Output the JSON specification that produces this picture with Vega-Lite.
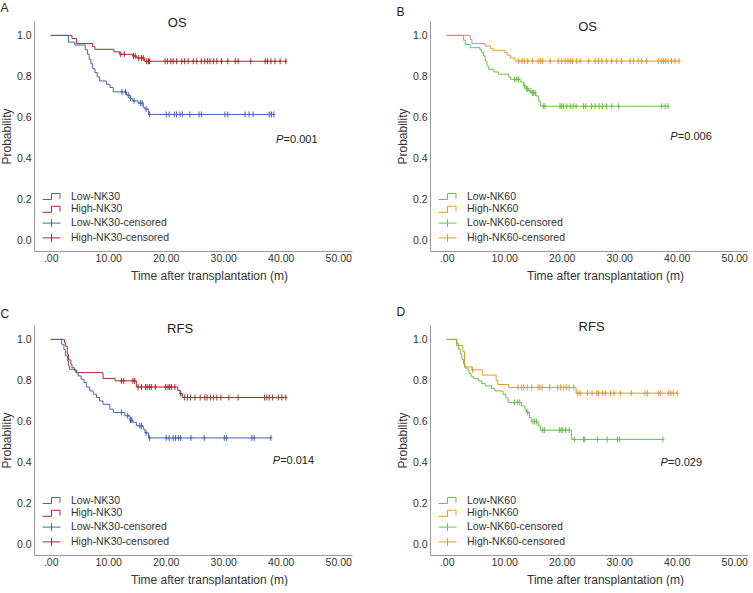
{
  "$schema": "https://vega.github.io/schema/vega-lite/v6.json",
  "padding": {"left": 0, "top": 2, "right": 0, "bottom": 0},
  "spacing": 24,
  "resolve": {"scale": {"color": "independent"}, "legend": {"color": "independent"}},
  "config": {
    "font": "Liberation Sans",
    "view": {"stroke": null},
    "concat": {"spacing": 44},
    "axis": {"grid": false, "ticks": false, "domainColor": "#9a9a9a", "labelColor": "#333333", "titleColor": "#333333", "labelFontSize": 10.5, "titleFontSize": 12, "titleFontWeight": "normal"},
    "axisX": {"labelExpr": "datum.value == 0 ? '.00' : format(datum.value, '.2f')", "labelPadding": 2, "titlePadding": 7, "titleX": 175, "titleAlign": "center"},
    "axisY": {"format": ".1f", "labelPadding": 3, "titlePadding": 3},
    "legend": {"orient": "none", "legendX": 12, "legendY": 170, "title": null, "padding": 0, "symbolSize": 100, "labelFontSize": 10.5, "labelOffset": 14, "rowPadding": 1.8, "labelColor": "#333333"},
    "title": {"fontSize": 12, "fontWeight": "normal", "anchor": "start", "frame": "bounds", "color": "#222222", "offset": 2}
  },
  "vconcat": [
    {
      "resolve": {"scale": {"color": "independent"}, "legend": {"color": "independent"}},
      "hconcat": [
        {
          "title": {"text": "A"},
          "width": 318, "height": 230,
          "data": {"values": [
            {"s": "High-NK30", "t": 0, "p": 1}, {"s": "High-NK30", "t": 3.7, "p": 0.985}, {"s": "High-NK30", "t": 4.5, "p": 0.96}, {"s": "High-NK30", "t": 7.3, "p": 0.945}, {"s": "High-NK30", "t": 7.7, "p": 0.932}, {"s": "High-NK30", "t": 11.0, "p": 0.92}, {"s": "High-NK30", "t": 12.0, "p": 0.908}, {"s": "High-NK30", "t": 14.3, "p": 0.9}, {"s": "High-NK30", "t": 14.9, "p": 0.89}, {"s": "High-NK30", "t": 16.3, "p": 0.874}, {"s": "High-NK30", "t": 40.9, "p": 0.874},
            {"s": "Low-NK30", "t": 0, "p": 1}, {"s": "Low-NK30", "t": 3.1, "p": 0.967}, {"s": "Low-NK30", "t": 4.2, "p": 0.953}, {"s": "Low-NK30", "t": 6.0, "p": 0.93}, {"s": "Low-NK30", "t": 6.4, "p": 0.908}, {"s": "Low-NK30", "t": 6.7, "p": 0.883}, {"s": "Low-NK30", "t": 7.0, "p": 0.862}, {"s": "Low-NK30", "t": 7.3, "p": 0.838}, {"s": "Low-NK30", "t": 7.7, "p": 0.819}, {"s": "Low-NK30", "t": 8.1, "p": 0.798}, {"s": "Low-NK30", "t": 8.5, "p": 0.778}, {"s": "Low-NK30", "t": 9.7, "p": 0.762}, {"s": "Low-NK30", "t": 10.3, "p": 0.746}, {"s": "Low-NK30", "t": 10.9, "p": 0.725}, {"s": "Low-NK30", "t": 13.2, "p": 0.709}, {"s": "Low-NK30", "t": 13.8, "p": 0.693}, {"s": "Low-NK30", "t": 14.2, "p": 0.681}, {"s": "Low-NK30", "t": 15.2, "p": 0.67}, {"s": "Low-NK30", "t": 16.1, "p": 0.649}, {"s": "Low-NK30", "t": 16.4, "p": 0.641}, {"s": "Low-NK30", "t": 17.0, "p": 0.615}, {"s": "Low-NK30", "t": 38.8, "p": 0.615},
            {"s": "Low-NK30-censored", "t": 12.4, "p": 0.725}, {"s": "Low-NK30-censored", "t": 13.0, "p": 0.725}, {"s": "Low-NK30-censored", "t": 13.5, "p": 0.709}, {"s": "Low-NK30-censored", "t": 13.9, "p": 0.693}, {"s": "Low-NK30-censored", "t": 14.5, "p": 0.681}, {"s": "Low-NK30-censored", "t": 15.6, "p": 0.67}, {"s": "Low-NK30-censored", "t": 15.9, "p": 0.67}, {"s": "Low-NK30-censored", "t": 16.6, "p": 0.641},
            {"s": "Low-NK30-censored", "t": 17.2, "p": 0.615}, {"s": "Low-NK30-censored", "t": 20.1, "p": 0.615}, {"s": "Low-NK30-censored", "t": 20.6, "p": 0.615}, {"s": "Low-NK30-censored", "t": 21.5, "p": 0.615}, {"s": "Low-NK30-censored", "t": 21.9, "p": 0.615}, {"s": "Low-NK30-censored", "t": 22.5, "p": 0.615}, {"s": "Low-NK30-censored", "t": 22.9, "p": 0.615}, {"s": "Low-NK30-censored", "t": 24.2, "p": 0.615}, {"s": "Low-NK30-censored", "t": 25.8, "p": 0.615}, {"s": "Low-NK30-censored", "t": 26.2, "p": 0.615}, {"s": "Low-NK30-censored", "t": 30.3, "p": 0.615}, {"s": "Low-NK30-censored", "t": 30.8, "p": 0.615}, {"s": "Low-NK30-censored", "t": 33.8, "p": 0.615}, {"s": "Low-NK30-censored", "t": 34.5, "p": 0.615}, {"s": "Low-NK30-censored", "t": 35.2, "p": 0.615}, {"s": "Low-NK30-censored", "t": 38.0, "p": 0.615}, {"s": "Low-NK30-censored", "t": 38.4, "p": 0.615}, {"s": "Low-NK30-censored", "t": 38.8, "p": 0.615},
            {"s": "High-NK30-censored", "t": 12.2, "p": 0.908}, {"s": "High-NK30-censored", "t": 12.8, "p": 0.908}, {"s": "High-NK30-censored", "t": 14.4, "p": 0.9}, {"s": "High-NK30-censored", "t": 14.7, "p": 0.9}, {"s": "High-NK30-censored", "t": 15.3, "p": 0.89}, {"s": "High-NK30-censored", "t": 15.8, "p": 0.89}, {"s": "High-NK30-censored", "t": 16.1, "p": 0.89},
            {"s": "High-NK30-censored", "t": 16.7, "p": 0.874}, {"s": "High-NK30-censored", "t": 17.0, "p": 0.874}, {"s": "High-NK30-censored", "t": 17.2, "p": 0.874}, {"s": "High-NK30-censored", "t": 19.9, "p": 0.874}, {"s": "High-NK30-censored", "t": 20.3, "p": 0.874}, {"s": "High-NK30-censored", "t": 20.9, "p": 0.874}, {"s": "High-NK30-censored", "t": 21.3, "p": 0.874}, {"s": "High-NK30-censored", "t": 21.9, "p": 0.874}, {"s": "High-NK30-censored", "t": 22.8, "p": 0.874}, {"s": "High-NK30-censored", "t": 23.3, "p": 0.874}, {"s": "High-NK30-censored", "t": 23.9, "p": 0.874}, {"s": "High-NK30-censored", "t": 24.8, "p": 0.874}, {"s": "High-NK30-censored", "t": 25.4, "p": 0.874}, {"s": "High-NK30-censored", "t": 26.2, "p": 0.874}, {"s": "High-NK30-censored", "t": 26.8, "p": 0.874}, {"s": "High-NK30-censored", "t": 27.3, "p": 0.874}, {"s": "High-NK30-censored", "t": 27.7, "p": 0.874}, {"s": "High-NK30-censored", "t": 28.3, "p": 0.874}, {"s": "High-NK30-censored", "t": 28.9, "p": 0.874}, {"s": "High-NK30-censored", "t": 29.7, "p": 0.874}, {"s": "High-NK30-censored", "t": 30.8, "p": 0.874}, {"s": "High-NK30-censored", "t": 32.1, "p": 0.874}, {"s": "High-NK30-censored", "t": 32.6, "p": 0.874}, {"s": "High-NK30-censored", "t": 34.8, "p": 0.874}, {"s": "High-NK30-censored", "t": 37.3, "p": 0.874}, {"s": "High-NK30-censored", "t": 37.7, "p": 0.874}, {"s": "High-NK30-censored", "t": 38.3, "p": 0.874}, {"s": "High-NK30-censored", "t": 39.0, "p": 0.874}, {"s": "High-NK30-censored", "t": 39.9, "p": 0.874}, {"s": "High-NK30-censored", "t": 40.9, "p": 0.874}
          ]},
          "layer": [
            {
              "transform": [{"filter": "indexof(datum.s, 'censored') < 0"}],
              "mark": {"type": "line", "interpolate": "step-after", "strokeWidth": 1},
              "encoding": {
                "x": {"field": "t", "type": "quantitative", "title": "Time after transplantation (m)", "scale": {"domain": [-2.9, 52.4], "nice": false, "zero": false}, "axis": {"values": [0, 10, 20, 30, 40, 50]}},
                "y": {"field": "p", "type": "quantitative", "title": "Probability", "scale": {"domain": [-0.05, 1.07], "nice": false, "zero": false}, "axis": {"values": [0, 0.2, 0.4, 0.6, 0.8, 1.0]}},
                "color": {"field": "s", "type": "nominal", "sort": null,
                  "scale": {"domain": ["Low-NK30", "High-NK30", "Low-NK30-censored", "High-NK30-censored"], "range": ["#4a66b0", "#b2282f", "#4a66b0", "#b2282f"]},
                  "legend": {"encode": {"symbols": {"update": {"shape": {"signal": "indexof(datum.value, 'censored') >= 0 ? 'M-1.8,0H1.8M0,-0.8V0.8' : 'M-1.8,0.6H0V-0.6H1.7V0.45'"}, "fill": {"value": "transparent"}, "strokeWidth": {"value": 1}}}}}}
              }
            },
            {
              "transform": [{"filter": "indexof(datum.s, 'censored') >= 0"}],
              "mark": {"type": "point", "shape": "M0,-1V1M-0.5,0H0.5", "size": 36, "filled": false, "strokeWidth": 1, "opacity": 1},
              "encoding": {
                "x": {"field": "t", "type": "quantitative"},
                "y": {"field": "p", "type": "quantitative"},
                "color": {"field": "s", "type": "nominal"}
              }
            },
            {
              "data": {"values": [{"txt": "OS"}]},
              "mark": {"type": "text", "fontSize": 13, "color": "#222222", "baseline": "middle"},
              "encoding": {"x": {"datum": 22}, "y": {"datum": 1.06}, "text": {"field": "txt"}}
            },
            {
              "data": {"values": [{"txt": "P", "rest": "=0.001"}]},
              "layer": [
                {"mark": {"type": "text", "fontSize": 11, "fontStyle": "italic", "align": "left", "baseline": "middle", "color": "#222222"}, "encoding": {"x": {"datum": 39.2}, "y": {"datum": 0.49}, "text": {"field": "txt"}}},
                {"mark": {"type": "text", "fontSize": 11, "align": "left", "baseline": "middle", "dx": 7.5, "color": "#222222"}, "encoding": {"x": {"datum": 39.2}, "y": {"datum": 0.49}, "text": {"field": "rest"}}}
              ]
            }
          ]
        },
        {
          "title": {"text": "B"},
          "width": 318, "height": 230,
          "data": {"values": [
            {"s": "High-NK60", "t": 0, "p": 1}, {"s": "High-NK60", "t": 4.1, "p": 0.98}, {"s": "High-NK60", "t": 4.4, "p": 0.96}, {"s": "High-NK60", "t": 6.7, "p": 0.948}, {"s": "High-NK60", "t": 7.6, "p": 0.935}, {"s": "High-NK60", "t": 8.1, "p": 0.927}, {"s": "High-NK60", "t": 10.1, "p": 0.916}, {"s": "High-NK60", "t": 10.5, "p": 0.903}, {"s": "High-NK60", "t": 11.1, "p": 0.89}, {"s": "High-NK60", "t": 11.9, "p": 0.875}, {"s": "High-NK60", "t": 40.4, "p": 0.875},
            {"s": "Low-NK60", "t": 0, "p": 1}, {"s": "Low-NK60", "t": 2.95, "p": 0.976}, {"s": "Low-NK60", "t": 3.24, "p": 0.956}, {"s": "Low-NK60", "t": 4.1, "p": 0.94}, {"s": "Low-NK60", "t": 5.8, "p": 0.93}, {"s": "Low-NK60", "t": 6.1, "p": 0.916}, {"s": "Low-NK60", "t": 6.4, "p": 0.9}, {"s": "Low-NK60", "t": 6.7, "p": 0.875}, {"s": "Low-NK60", "t": 7.0, "p": 0.851}, {"s": "Low-NK60", "t": 7.3, "p": 0.835}, {"s": "Low-NK60", "t": 8.2, "p": 0.822}, {"s": "Low-NK60", "t": 9.0, "p": 0.811}, {"s": "Low-NK60", "t": 10.8, "p": 0.798}, {"s": "Low-NK60", "t": 11.1, "p": 0.786}, {"s": "Low-NK60", "t": 12.8, "p": 0.773}, {"s": "Low-NK60", "t": 13.4, "p": 0.754}, {"s": "Low-NK60", "t": 13.8, "p": 0.74}, {"s": "Low-NK60", "t": 14.2, "p": 0.73}, {"s": "Low-NK60", "t": 14.8, "p": 0.72}, {"s": "Low-NK60", "t": 15.5, "p": 0.705}, {"s": "Low-NK60", "t": 16.0, "p": 0.68}, {"s": "Low-NK60", "t": 16.3, "p": 0.655}, {"s": "Low-NK60", "t": 38.5, "p": 0.655},
            {"s": "Low-NK60-censored", "t": 11.8, "p": 0.786}, {"s": "Low-NK60-censored", "t": 12.2, "p": 0.786}, {"s": "Low-NK60-censored", "t": 12.5, "p": 0.786}, {"s": "Low-NK60-censored", "t": 13.5, "p": 0.754}, {"s": "Low-NK60-censored", "t": 13.9, "p": 0.74}, {"s": "Low-NK60-censored", "t": 14.1, "p": 0.74}, {"s": "Low-NK60-censored", "t": 14.5, "p": 0.73}, {"s": "Low-NK60-censored", "t": 14.9, "p": 0.72}, {"s": "Low-NK60-censored", "t": 15.1, "p": 0.72}, {"s": "Low-NK60-censored", "t": 15.4, "p": 0.72},
            {"s": "Low-NK60-censored", "t": 16.8, "p": 0.655}, {"s": "Low-NK60-censored", "t": 17.1, "p": 0.655}, {"s": "Low-NK60-censored", "t": 19.7, "p": 0.655}, {"s": "Low-NK60-censored", "t": 20.0, "p": 0.655}, {"s": "Low-NK60-censored", "t": 20.3, "p": 0.655}, {"s": "Low-NK60-censored", "t": 20.9, "p": 0.655}, {"s": "Low-NK60-censored", "t": 21.5, "p": 0.655}, {"s": "Low-NK60-censored", "t": 22.0, "p": 0.655}, {"s": "Low-NK60-censored", "t": 22.5, "p": 0.655}, {"s": "Low-NK60-censored", "t": 23.8, "p": 0.655}, {"s": "Low-NK60-censored", "t": 24.2, "p": 0.655}, {"s": "Low-NK60-censored", "t": 25.2, "p": 0.655}, {"s": "Low-NK60-censored", "t": 25.8, "p": 0.655}, {"s": "Low-NK60-censored", "t": 26.5, "p": 0.655}, {"s": "Low-NK60-censored", "t": 27.1, "p": 0.655}, {"s": "Low-NK60-censored", "t": 27.8, "p": 0.655}, {"s": "Low-NK60-censored", "t": 28.7, "p": 0.655}, {"s": "Low-NK60-censored", "t": 29.9, "p": 0.655}, {"s": "Low-NK60-censored", "t": 37.4, "p": 0.655}, {"s": "Low-NK60-censored", "t": 38.0, "p": 0.655}, {"s": "Low-NK60-censored", "t": 38.5, "p": 0.655},
            {"s": "High-NK60-censored", "t": 12.5, "p": 0.875}, {"s": "High-NK60-censored", "t": 13.1, "p": 0.875}, {"s": "High-NK60-censored", "t": 13.5, "p": 0.875}, {"s": "High-NK60-censored", "t": 14.1, "p": 0.875}, {"s": "High-NK60-censored", "t": 14.9, "p": 0.875}, {"s": "High-NK60-censored", "t": 15.9, "p": 0.875}, {"s": "High-NK60-censored", "t": 16.3, "p": 0.875}, {"s": "High-NK60-censored", "t": 16.7, "p": 0.875}, {"s": "High-NK60-censored", "t": 18.0, "p": 0.875}, {"s": "High-NK60-censored", "t": 19.4, "p": 0.875}, {"s": "High-NK60-censored", "t": 20.0, "p": 0.875}, {"s": "High-NK60-censored", "t": 20.6, "p": 0.875}, {"s": "High-NK60-censored", "t": 21.1, "p": 0.875}, {"s": "High-NK60-censored", "t": 21.5, "p": 0.875}, {"s": "High-NK60-censored", "t": 21.9, "p": 0.875}, {"s": "High-NK60-censored", "t": 22.6, "p": 0.875}, {"s": "High-NK60-censored", "t": 23.2, "p": 0.875}, {"s": "High-NK60-censored", "t": 24.7, "p": 0.875}, {"s": "High-NK60-censored", "t": 25.8, "p": 0.875}, {"s": "High-NK60-censored", "t": 26.4, "p": 0.875}, {"s": "High-NK60-censored", "t": 27.0, "p": 0.875}, {"s": "High-NK60-censored", "t": 27.8, "p": 0.875}, {"s": "High-NK60-censored", "t": 28.7, "p": 0.875}, {"s": "High-NK60-censored", "t": 29.6, "p": 0.875}, {"s": "High-NK60-censored", "t": 30.4, "p": 0.875}, {"s": "High-NK60-censored", "t": 31.9, "p": 0.875}, {"s": "High-NK60-censored", "t": 32.5, "p": 0.875}, {"s": "High-NK60-censored", "t": 33.3, "p": 0.875}, {"s": "High-NK60-censored", "t": 33.9, "p": 0.875}, {"s": "High-NK60-censored", "t": 34.8, "p": 0.875}, {"s": "High-NK60-censored", "t": 36.8, "p": 0.875}, {"s": "High-NK60-censored", "t": 37.3, "p": 0.875}, {"s": "High-NK60-censored", "t": 37.7, "p": 0.875}, {"s": "High-NK60-censored", "t": 38.1, "p": 0.875}, {"s": "High-NK60-censored", "t": 38.5, "p": 0.875}, {"s": "High-NK60-censored", "t": 39.1, "p": 0.875}, {"s": "High-NK60-censored", "t": 39.7, "p": 0.875}, {"s": "High-NK60-censored", "t": 40.4, "p": 0.875}
          ]},
          "layer": [
            {
              "transform": [{"filter": "indexof(datum.s, 'censored') < 0"}],
              "mark": {"type": "line", "interpolate": "step-after", "strokeWidth": 1},
              "encoding": {
                "x": {"field": "t", "type": "quantitative", "title": "Time after transplantation (m)", "scale": {"domain": [-2.9, 52.4], "nice": false, "zero": false}, "axis": {"values": [0, 10, 20, 30, 40, 50]}},
                "y": {"field": "p", "type": "quantitative", "title": "Probability", "scale": {"domain": [-0.05, 1.07], "nice": false, "zero": false}, "axis": {"values": [0, 0.2, 0.4, 0.6, 0.8, 1.0]}},
                "color": {"field": "s", "type": "nominal", "sort": null,
                  "scale": {"domain": ["Low-NK60", "High-NK60", "Low-NK60-censored", "High-NK60-censored"], "range": ["#6cbf4f", "#e59a2b", "#6cbf4f", "#e59a2b"]},
                  "legend": {"encode": {"symbols": {"update": {"shape": {"signal": "indexof(datum.value, 'censored') >= 0 ? 'M-1.8,0H1.8M0,-0.8V0.8' : 'M-1.8,0.6H0V-0.6H1.7V0.45'"}, "fill": {"value": "transparent"}, "strokeWidth": {"value": 1}}}}}}
              }
            },
            {
              "transform": [{"filter": "indexof(datum.s, 'censored') >= 0"}],
              "mark": {"type": "point", "shape": "M0,-1V1M-0.5,0H0.5", "size": 36, "filled": false, "strokeWidth": 1, "opacity": 1},
              "encoding": {
                "x": {"field": "t", "type": "quantitative"},
                "y": {"field": "p", "type": "quantitative"},
                "color": {"field": "s", "type": "nominal"}
              }
            },
            {
              "data": {"values": [{"txt": "OS"}]},
              "mark": {"type": "text", "fontSize": 13, "color": "#222222", "baseline": "middle"},
              "encoding": {"x": {"datum": 24.5}, "y": {"datum": 1.04}, "text": {"field": "txt"}}
            },
            {
              "data": {"values": [{"txt": "P", "rest": "=0.006"}]},
              "layer": [
                {"mark": {"type": "text", "fontSize": 11, "fontStyle": "italic", "align": "left", "baseline": "middle", "color": "#222222"}, "encoding": {"x": {"datum": 38.9}, "y": {"datum": 0.505}, "text": {"field": "txt"}}},
                {"mark": {"type": "text", "fontSize": 11, "align": "left", "baseline": "middle", "dx": 7.5, "color": "#222222"}, "encoding": {"x": {"datum": 38.9}, "y": {"datum": 0.505}, "text": {"field": "rest"}}}
              ]
            }
          ]
        }
      ]
    },
    {
      "resolve": {"scale": {"color": "independent"}, "legend": {"color": "independent"}},
      "hconcat": [
        {
          "title": {"text": "C"},
          "width": 318, "height": 230,
          "data": {"values": [
            {"s": "High-NK30", "t": 0, "p": 1}, {"s": "High-NK30", "t": 2.4, "p": 0.984}, {"s": "High-NK30", "t": 2.56, "p": 0.967}, {"s": "High-NK30", "t": 2.9, "p": 0.927}, {"s": "High-NK30", "t": 3.1, "p": 0.9}, {"s": "High-NK30", "t": 3.5, "p": 0.879}, {"s": "High-NK30", "t": 3.7, "p": 0.862}, {"s": "High-NK30", "t": 4.1, "p": 0.85}, {"s": "High-NK30", "t": 4.5, "p": 0.838}, {"s": "High-NK30", "t": 9.1, "p": 0.81}, {"s": "High-NK30", "t": 11.2, "p": 0.798}, {"s": "High-NK30", "t": 14.9, "p": 0.768}, {"s": "High-NK30", "t": 22.1, "p": 0.752}, {"s": "High-NK30", "t": 22.5, "p": 0.736}, {"s": "High-NK30", "t": 22.9, "p": 0.717}, {"s": "High-NK30", "t": 40.9, "p": 0.717},
            {"s": "Low-NK30", "t": 0, "p": 1}, {"s": "Low-NK30", "t": 1.9, "p": 0.976}, {"s": "Low-NK30", "t": 2.3, "p": 0.951}, {"s": "Low-NK30", "t": 2.55, "p": 0.92}, {"s": "Low-NK30", "t": 2.9, "p": 0.895}, {"s": "Low-NK30", "t": 3.1, "p": 0.87}, {"s": "Low-NK30", "t": 3.3, "p": 0.854}, {"s": "Low-NK30", "t": 4.3, "p": 0.84}, {"s": "Low-NK30", "t": 4.76, "p": 0.822}, {"s": "Low-NK30", "t": 5.3, "p": 0.806}, {"s": "Low-NK30", "t": 5.8, "p": 0.79}, {"s": "Low-NK30", "t": 6.2, "p": 0.768}, {"s": "Low-NK30", "t": 6.8, "p": 0.749}, {"s": "Low-NK30", "t": 7.4, "p": 0.733}, {"s": "Low-NK30", "t": 7.96, "p": 0.717}, {"s": "Low-NK30", "t": 8.5, "p": 0.7}, {"s": "Low-NK30", "t": 9.1, "p": 0.684}, {"s": "Low-NK30", "t": 10.3, "p": 0.66}, {"s": "Low-NK30", "t": 10.9, "p": 0.644}, {"s": "Low-NK30", "t": 12.9, "p": 0.628}, {"s": "Low-NK30", "t": 13.8, "p": 0.607}, {"s": "Low-NK30", "t": 14.3, "p": 0.596}, {"s": "Low-NK30", "t": 14.9, "p": 0.579}, {"s": "Low-NK30", "t": 16.1, "p": 0.563}, {"s": "Low-NK30", "t": 16.4, "p": 0.545}, {"s": "Low-NK30", "t": 17.0, "p": 0.52}, {"s": "Low-NK30", "t": 38.3, "p": 0.52},
            {"s": "Low-NK30-censored", "t": 12.3, "p": 0.644}, {"s": "Low-NK30-censored", "t": 13.4, "p": 0.628}, {"s": "Low-NK30-censored", "t": 13.9, "p": 0.607}, {"s": "Low-NK30-censored", "t": 14.1, "p": 0.607}, {"s": "Low-NK30-censored", "t": 15.5, "p": 0.579}, {"s": "Low-NK30-censored", "t": 15.8, "p": 0.579}, {"s": "Low-NK30-censored", "t": 16.6, "p": 0.545},
            {"s": "Low-NK30-censored", "t": 17.2, "p": 0.52}, {"s": "Low-NK30-censored", "t": 20.1, "p": 0.52}, {"s": "Low-NK30-censored", "t": 20.6, "p": 0.52}, {"s": "Low-NK30-censored", "t": 21.3, "p": 0.52}, {"s": "Low-NK30-censored", "t": 21.7, "p": 0.52}, {"s": "Low-NK30-censored", "t": 22.2, "p": 0.52}, {"s": "Low-NK30-censored", "t": 22.6, "p": 0.52}, {"s": "Low-NK30-censored", "t": 24.4, "p": 0.52}, {"s": "Low-NK30-censored", "t": 26.7, "p": 0.52}, {"s": "Low-NK30-censored", "t": 30.2, "p": 0.52}, {"s": "Low-NK30-censored", "t": 30.6, "p": 0.52}, {"s": "Low-NK30-censored", "t": 35.0, "p": 0.52}, {"s": "Low-NK30-censored", "t": 35.4, "p": 0.52}, {"s": "Low-NK30-censored", "t": 38.3, "p": 0.52},
            {"s": "High-NK30-censored", "t": 12.3, "p": 0.798}, {"s": "High-NK30-censored", "t": 12.7, "p": 0.798}, {"s": "High-NK30-censored", "t": 14.3, "p": 0.798}, {"s": "High-NK30-censored", "t": 14.6, "p": 0.798},
            {"s": "High-NK30-censored", "t": 15.2, "p": 0.768}, {"s": "High-NK30-censored", "t": 15.8, "p": 0.768}, {"s": "High-NK30-censored", "t": 16.5, "p": 0.768}, {"s": "High-NK30-censored", "t": 16.8, "p": 0.768}, {"s": "High-NK30-censored", "t": 17.2, "p": 0.768}, {"s": "High-NK30-censored", "t": 17.5, "p": 0.768}, {"s": "High-NK30-censored", "t": 18.2, "p": 0.768}, {"s": "High-NK30-censored", "t": 20.0, "p": 0.768}, {"s": "High-NK30-censored", "t": 20.4, "p": 0.768}, {"s": "High-NK30-censored", "t": 20.7, "p": 0.768}, {"s": "High-NK30-censored", "t": 21.0, "p": 0.768}, {"s": "High-NK30-censored", "t": 21.6, "p": 0.768}, {"s": "High-NK30-censored", "t": 22.6, "p": 0.736},
            {"s": "High-NK30-censored", "t": 23.3, "p": 0.717}, {"s": "High-NK30-censored", "t": 23.8, "p": 0.717}, {"s": "High-NK30-censored", "t": 24.3, "p": 0.717}, {"s": "High-NK30-censored", "t": 25.1, "p": 0.717}, {"s": "High-NK30-censored", "t": 26.0, "p": 0.717}, {"s": "High-NK30-censored", "t": 26.8, "p": 0.717}, {"s": "High-NK30-censored", "t": 27.2, "p": 0.717}, {"s": "High-NK30-censored", "t": 27.8, "p": 0.717}, {"s": "High-NK30-censored", "t": 28.3, "p": 0.717}, {"s": "High-NK30-censored", "t": 28.9, "p": 0.717}, {"s": "High-NK30-censored", "t": 29.6, "p": 0.717}, {"s": "High-NK30-censored", "t": 31.0, "p": 0.717}, {"s": "High-NK30-censored", "t": 32.6, "p": 0.717}, {"s": "High-NK30-censored", "t": 37.2, "p": 0.717}, {"s": "High-NK30-censored", "t": 37.6, "p": 0.717}, {"s": "High-NK30-censored", "t": 38.0, "p": 0.717}, {"s": "High-NK30-censored", "t": 38.6, "p": 0.717}, {"s": "High-NK30-censored", "t": 39.6, "p": 0.717}, {"s": "High-NK30-censored", "t": 40.2, "p": 0.717}, {"s": "High-NK30-censored", "t": 40.9, "p": 0.717}
          ]},
          "layer": [
            {
              "transform": [{"filter": "indexof(datum.s, 'censored') < 0"}],
              "mark": {"type": "line", "interpolate": "step-after", "strokeWidth": 1},
              "encoding": {
                "x": {"field": "t", "type": "quantitative", "title": "Time after transplantation (m)", "scale": {"domain": [-2.9, 52.4], "nice": false, "zero": false}, "axis": {"values": [0, 10, 20, 30, 40, 50]}},
                "y": {"field": "p", "type": "quantitative", "title": "Probability", "scale": {"domain": [-0.05, 1.07], "nice": false, "zero": false}, "axis": {"values": [0, 0.2, 0.4, 0.6, 0.8, 1.0]}},
                "color": {"field": "s", "type": "nominal", "sort": null,
                  "scale": {"domain": ["Low-NK30", "High-NK30", "Low-NK30-censored", "High-NK30-censored"], "range": ["#4a66b0", "#b2282f", "#4a66b0", "#b2282f"]},
                  "legend": {"encode": {"symbols": {"update": {"shape": {"signal": "indexof(datum.value, 'censored') >= 0 ? 'M-1.8,0H1.8M0,-0.8V0.8' : 'M-1.8,0.6H0V-0.6H1.7V0.45'"}, "fill": {"value": "transparent"}, "strokeWidth": {"value": 1}}}}}}
              }
            },
            {
              "transform": [{"filter": "indexof(datum.s, 'censored') >= 0"}],
              "mark": {"type": "point", "shape": "M0,-1V1M-0.5,0H0.5", "size": 36, "filled": false, "strokeWidth": 1, "opacity": 1},
              "encoding": {
                "x": {"field": "t", "type": "quantitative"},
                "y": {"field": "p", "type": "quantitative"},
                "color": {"field": "s", "type": "nominal"}
              }
            },
            {
              "data": {"values": [{"txt": "RFS"}]},
              "mark": {"type": "text", "fontSize": 13, "color": "#222222", "baseline": "middle"},
              "encoding": {"x": {"datum": 22.5}, "y": {"datum": 1.05}, "text": {"field": "txt"}}
            },
            {
              "data": {"values": [{"txt": "P", "rest": "=0.014"}]},
              "layer": [
                {"mark": {"type": "text", "fontSize": 11, "fontStyle": "italic", "align": "left", "baseline": "middle", "color": "#222222"}, "encoding": {"x": {"datum": 38.6}, "y": {"datum": 0.408}, "text": {"field": "txt"}}},
                {"mark": {"type": "text", "fontSize": 11, "align": "left", "baseline": "middle", "dx": 7.5, "color": "#222222"}, "encoding": {"x": {"datum": 38.6}, "y": {"datum": 0.408}, "text": {"field": "rest"}}}
              ]
            }
          ]
        },
        {
          "title": {"text": "D"},
          "width": 318, "height": 230,
          "data": {"values": [
            {"s": "High-NK60", "t": 0, "p": 1}, {"s": "High-NK60", "t": 1.7, "p": 0.97}, {"s": "High-NK60", "t": 2.8, "p": 0.94}, {"s": "High-NK60", "t": 3.1, "p": 0.866}, {"s": "High-NK60", "t": 4.4, "p": 0.852}, {"s": "High-NK60", "t": 6.2, "p": 0.826}, {"s": "High-NK60", "t": 8.6, "p": 0.8}, {"s": "High-NK60", "t": 8.9, "p": 0.78}, {"s": "High-NK60", "t": 10.8, "p": 0.766}, {"s": "High-NK60", "t": 22.5, "p": 0.738}, {"s": "High-NK60", "t": 40.1, "p": 0.738},
            {"s": "Low-NK60", "t": 0, "p": 1}, {"s": "Low-NK60", "t": 1.8, "p": 0.98}, {"s": "Low-NK60", "t": 2.07, "p": 0.951}, {"s": "Low-NK60", "t": 2.36, "p": 0.93}, {"s": "Low-NK60", "t": 2.64, "p": 0.903}, {"s": "Low-NK60", "t": 2.93, "p": 0.88}, {"s": "Low-NK60", "t": 3.2, "p": 0.86}, {"s": "Low-NK60", "t": 3.7, "p": 0.85}, {"s": "Low-NK60", "t": 3.9, "p": 0.833}, {"s": "Low-NK60", "t": 4.25, "p": 0.82}, {"s": "Low-NK60", "t": 4.65, "p": 0.81}, {"s": "Low-NK60", "t": 5.5, "p": 0.798}, {"s": "Low-NK60", "t": 6.1, "p": 0.785}, {"s": "Low-NK60", "t": 6.7, "p": 0.773}, {"s": "Low-NK60", "t": 7.8, "p": 0.76}, {"s": "Low-NK60", "t": 8.4, "p": 0.749}, {"s": "Low-NK60", "t": 9.8, "p": 0.733}, {"s": "Low-NK60", "t": 10.3, "p": 0.715}, {"s": "Low-NK60", "t": 10.7, "p": 0.693}, {"s": "Low-NK60", "t": 13.0, "p": 0.676}, {"s": "Low-NK60", "t": 13.6, "p": 0.66}, {"s": "Low-NK60", "t": 13.9, "p": 0.644}, {"s": "Low-NK60", "t": 14.4, "p": 0.62}, {"s": "Low-NK60", "t": 14.7, "p": 0.6}, {"s": "Low-NK60", "t": 15.9, "p": 0.579}, {"s": "Low-NK60", "t": 16.3, "p": 0.558}, {"s": "Low-NK60", "t": 21.7, "p": 0.513}, {"s": "Low-NK60", "t": 37.6, "p": 0.513},
            {"s": "Low-NK60-censored", "t": 11.8, "p": 0.693}, {"s": "Low-NK60-censored", "t": 12.3, "p": 0.693}, {"s": "Low-NK60-censored", "t": 12.7, "p": 0.693}, {"s": "Low-NK60-censored", "t": 14.1, "p": 0.644}, {"s": "Low-NK60-censored", "t": 15.0, "p": 0.6}, {"s": "Low-NK60-censored", "t": 15.3, "p": 0.6}, {"s": "Low-NK60-censored", "t": 15.6, "p": 0.6}, {"s": "Low-NK60-censored", "t": 16.7, "p": 0.558}, {"s": "Low-NK60-censored", "t": 17.0, "p": 0.558}, {"s": "Low-NK60-censored", "t": 19.6, "p": 0.558}, {"s": "Low-NK60-censored", "t": 19.9, "p": 0.558}, {"s": "Low-NK60-censored", "t": 20.2, "p": 0.558}, {"s": "Low-NK60-censored", "t": 20.7, "p": 0.558}, {"s": "Low-NK60-censored", "t": 21.3, "p": 0.558},
            {"s": "Low-NK60-censored", "t": 22.2, "p": 0.513}, {"s": "Low-NK60-censored", "t": 23.8, "p": 0.513}, {"s": "Low-NK60-censored", "t": 24.0, "p": 0.513}, {"s": "Low-NK60-censored", "t": 26.2, "p": 0.513}, {"s": "Low-NK60-censored", "t": 27.9, "p": 0.513}, {"s": "Low-NK60-censored", "t": 29.7, "p": 0.513}, {"s": "Low-NK60-censored", "t": 30.1, "p": 0.513}, {"s": "Low-NK60-censored", "t": 37.6, "p": 0.513},
            {"s": "High-NK60-censored", "t": 4.5, "p": 0.852},
            {"s": "High-NK60-censored", "t": 12.4, "p": 0.766}, {"s": "High-NK60-censored", "t": 13.0, "p": 0.766}, {"s": "High-NK60-censored", "t": 13.4, "p": 0.766}, {"s": "High-NK60-censored", "t": 14.0, "p": 0.766}, {"s": "High-NK60-censored", "t": 14.8, "p": 0.766}, {"s": "High-NK60-censored", "t": 15.9, "p": 0.766}, {"s": "High-NK60-censored", "t": 16.2, "p": 0.766}, {"s": "High-NK60-censored", "t": 16.6, "p": 0.766}, {"s": "High-NK60-censored", "t": 17.9, "p": 0.766}, {"s": "High-NK60-censored", "t": 19.3, "p": 0.766}, {"s": "High-NK60-censored", "t": 19.8, "p": 0.766}, {"s": "High-NK60-censored", "t": 20.3, "p": 0.766}, {"s": "High-NK60-censored", "t": 20.8, "p": 0.766}, {"s": "High-NK60-censored", "t": 21.3, "p": 0.766}, {"s": "High-NK60-censored", "t": 22.1, "p": 0.766},
            {"s": "High-NK60-censored", "t": 22.8, "p": 0.738}, {"s": "High-NK60-censored", "t": 23.2, "p": 0.738}, {"s": "High-NK60-censored", "t": 24.5, "p": 0.738}, {"s": "High-NK60-censored", "t": 25.3, "p": 0.738}, {"s": "High-NK60-censored", "t": 26.1, "p": 0.738}, {"s": "High-NK60-censored", "t": 26.4, "p": 0.738}, {"s": "High-NK60-censored", "t": 27.1, "p": 0.738}, {"s": "High-NK60-censored", "t": 27.6, "p": 0.738}, {"s": "High-NK60-censored", "t": 28.5, "p": 0.738}, {"s": "High-NK60-censored", "t": 29.1, "p": 0.738}, {"s": "High-NK60-censored", "t": 30.2, "p": 0.738}, {"s": "High-NK60-censored", "t": 32.1, "p": 0.738}, {"s": "High-NK60-censored", "t": 34.5, "p": 0.738}, {"s": "High-NK60-censored", "t": 34.9, "p": 0.738}, {"s": "High-NK60-censored", "t": 36.8, "p": 0.738}, {"s": "High-NK60-censored", "t": 37.2, "p": 0.738}, {"s": "High-NK60-censored", "t": 38.6, "p": 0.738}, {"s": "High-NK60-censored", "t": 39.0, "p": 0.738}, {"s": "High-NK60-censored", "t": 39.4, "p": 0.738}, {"s": "High-NK60-censored", "t": 40.1, "p": 0.738}
          ]},
          "layer": [
            {
              "transform": [{"filter": "indexof(datum.s, 'censored') < 0"}],
              "mark": {"type": "line", "interpolate": "step-after", "strokeWidth": 1},
              "encoding": {
                "x": {"field": "t", "type": "quantitative", "title": "Time after transplantation (m)", "scale": {"domain": [-2.9, 52.4], "nice": false, "zero": false}, "axis": {"values": [0, 10, 20, 30, 40, 50]}},
                "y": {"field": "p", "type": "quantitative", "title": "Probability", "scale": {"domain": [-0.05, 1.07], "nice": false, "zero": false}, "axis": {"values": [0, 0.2, 0.4, 0.6, 0.8, 1.0]}},
                "color": {"field": "s", "type": "nominal", "sort": null,
                  "scale": {"domain": ["Low-NK60", "High-NK60", "Low-NK60-censored", "High-NK60-censored"], "range": ["#6cbf4f", "#e59a2b", "#6cbf4f", "#e59a2b"]},
                  "legend": {"encode": {"symbols": {"update": {"shape": {"signal": "indexof(datum.value, 'censored') >= 0 ? 'M-1.8,0H1.8M0,-0.8V0.8' : 'M-1.8,0.6H0V-0.6H1.7V0.45'"}, "fill": {"value": "transparent"}, "strokeWidth": {"value": 1}}}}}}
              }
            },
            {
              "transform": [{"filter": "indexof(datum.s, 'censored') >= 0"}],
              "mark": {"type": "point", "shape": "M0,-1V1M-0.5,0H0.5", "size": 36, "filled": false, "strokeWidth": 1, "opacity": 1},
              "encoding": {
                "x": {"field": "t", "type": "quantitative"},
                "y": {"field": "p", "type": "quantitative"},
                "color": {"field": "s", "type": "nominal"}
              }
            },
            {
              "data": {"values": [{"txt": "RFS"}]},
              "mark": {"type": "text", "fontSize": 13, "color": "#222222", "baseline": "middle"},
              "encoding": {"x": {"datum": 25.2}, "y": {"datum": 1.06}, "text": {"field": "txt"}}
            },
            {
              "data": {"values": [{"txt": "P", "rest": "=0.029"}]},
              "layer": [
                {"mark": {"type": "text", "fontSize": 11, "fontStyle": "italic", "align": "left", "baseline": "middle", "color": "#222222"}, "encoding": {"x": {"datum": 37.2}, "y": {"datum": 0.4}, "text": {"field": "txt"}}},
                {"mark": {"type": "text", "fontSize": 11, "align": "left", "baseline": "middle", "dx": 7.5, "color": "#222222"}, "encoding": {"x": {"datum": 37.2}, "y": {"datum": 0.4}, "text": {"field": "rest"}}}
              ]
            }
          ]
        }
      ]
    }
  ]
}
